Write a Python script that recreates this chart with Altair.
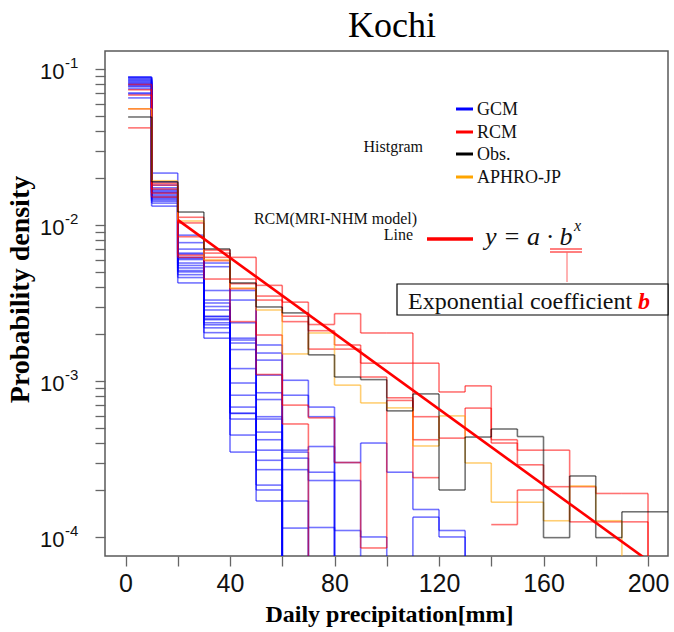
import altair as alt
import pandas as pd

# ---------------- data ----------------
BIN_LEFT = [1, 10, 20, 30, 40, 50, 60, 70, 80, 90, 100, 110, 120, 130, 140, 150, 160, 170, 180, 190, 200]
BIN_RIGHT = [10, 20, 30, 40, 50, 60, 70, 80, 90, 100, 110, 120, 130, 140, 150, 160, 170, 180, 190, 200, 210]
BELOW = 3e-5  # density below the visible axis range (line runs off the bottom)

GCM = [
    [0.0802, 0.0215, 0.0086, 0.0057, 0.0033, 0.0017, 0.00101, 0.00068, 0.0003, 0.0004, 0.00026, 0.00015, 0.00011, BELOW],
    [0.0889, 0.0189, 0.0077, 0.0054, 0.0038, 0.00151, 0.00081, 0.00059, 0.00023, 0.0001, BELOW, 0.000134, 0.0001, BELOW],
    [0.0876, 0.018, 0.0070, 0.0038, 0.00236, 0.00136, 0.00036, 0.00038, 0.00011, BELOW],
    [0.0863, 0.0173, 0.0065, 0.0033, 0.00188, 0.00109, 0.00035, 0.00026, BELOW],
    [0.085, 0.0168, 0.0061, 0.00316, 0.00183, 0.00084, 0.00032, 0.00023, BELOW],
    [0.0838, 0.016, 0.0057, 0.00285, 0.00175, 0.00076, 0.00027, 0.000115, BELOW],
    [0.0825, 0.0153, 0.0053, 0.00258, 0.00159, 0.00059, 0.00017, BELOW],
    [0.0813, 0.0145, 0.005, 0.00247, 0.00097, 0.00057, 0.000114, BELOW],
    [0.079, 0.0165, 0.0046, 0.00236, 0.00081, 0.00047, BELOW],
    [0.0778, 0.0156, 0.00425, 0.00229, 0.00068, 0.00042, BELOW],
    [0.0767, 0.015, 0.0062, 0.00219, 0.00062, 0.00031, BELOW],
    [0.0745, 0.0142, 0.0055, 0.00204, 0.00057, 0.00027, BELOW],
    [0.0702, 0.0138, 0.0048, 0.00188, 0.00045, 0.000215, BELOW],
    [0.0692, 0.0132, 0.0060, 0.0030, 0.00035, 0.0002, BELOW],
    [0.0652, 0.0148, 0.0051, 0.0026, 0.00062, 0.00017, BELOW],
    [0.0885, 0.0162, 0.0066, 0.0025, 0.0012, 0.00036, BELOW],
]

RCM = [
    [0.0555, 0.017, 0.0112, 0.0069, 0.0062, 0.0041, 0.0032, 0.0023, 0.0027, 0.00203, 0.00203, 0.0013, 0.00085,
     0.00093, 0.00042, 0.00036, 0.00036, 0.00021, 0.00019, 0.00019, BELOW],
    [0.0419, 0.016, 0.0103, 0.0066, 0.0045, 0.0035, 0.0026, 0.0021, 0.0017, 0.0013, 0.0013, 0.00059, 0.00043,
     0.00067, 0.0004, 0.00029, 0.00021, 0.000125, 0.000125, 0.000125, BELOW],
    [0.0735, 0.0151, 0.0084, 0.0062, 0.0042, 0.0033, 0.0024, 0.0016, 0.0016, 0.00106, 0.00078, 0.00024, None,
     None, 0.00012, 0.0002, None],
    [0.068, 0.018, 0.0064, 0.0059, 0.0039, 0.00197, 0.0007, 0.00058, 0.0003, 8.5e-5, 0.00075, 0.00042, None],
    [0.0795, 0.0185, 0.0062, 0.0045, 0.0024, 0.0011, 0.00053, BELOW],
]

OBS = [0.0492, 0.0189, 0.0121, 0.00702, 0.00425, 0.00298, 0.00273, 0.00147, 0.00106, 0.00102, 0.000643,
       0.000826, 0.0002, 0.000437, 0.000492, 0.00044, 9.9e-5, 0.000246, 9.9e-5, 0.000145, 0.000145]

APHRO = [0.0555, 0.0192, 0.0106, 0.00597, 0.00394, 0.00285, 0.00149, 0.00203, 0.00094, 0.000723, 0.000672,
         0.000383, 0.000597, 0.000298, 0.000167, 0.000167, 0.000127, 0.000212, 0.000127, BELOW]

FIT_X = [20, 200]
FIT_Y = [0.01077, 7.06e-5]

Y_DECADES = [1e-4, 1e-3, 1e-2, 1e-1]
Y_EXPONENTS = ["-4", "-3", "-2", "-1"]
X_TICKS = [0, 20, 40, 60, 80, 100, 120, 140, 160, 180, 200]

GROUPS = ["GCM", "RCM", "APHRO-JP", "Obs."]
COLORS = ["#0000ff", "#ff0000", "#ffa500", "#000000"]

# ---------------- build step-segment table ----------------
def step_rows(name, group, vals):
    rows = []
    prev = None
    for i, v in enumerate(vals):
        if v is None:
            prev = None
            continue
        rows.append(dict(series=name, group=group, x=BIN_LEFT[i], x2=BIN_RIGHT[i], y=v, y2=v))
        if prev is not None:
            rows.append(dict(series=name, group=group, x=BIN_LEFT[i], x2=BIN_LEFT[i], y=prev, y2=v))
        prev = v
    return rows

rows = []
for k, s in enumerate(GCM):
    rows += step_rows(f"GCM{k}", "GCM", s)
for k, s in enumerate(RCM):
    rows += step_rows(f"RCM{k}", "RCM", s)
rows += step_rows("APHRO", "APHRO-JP", APHRO)
rows += step_rows("OBS", "Obs.", OBS)
seg = pd.DataFrame(rows)

minor = [m * 10.0 ** k for k in (-4, -3, -2) for m in range(1, 10)] + [0.1]

SERIF = "Liberation Serif"
SANS = "Liberation Sans"

xscale = alt.Scale(domain=[-7.85, 207.65], nice=False, zero=False)
yscale = alt.Scale(type="log", domain=[7.55e-5, 0.1303], nice=False)

xaxis = alt.Axis(
    values=X_TICKS, labelExpr="datum.value % 40 == 0 ? datum.label : ''",
    tickSize=10, domain=False, grid=False, labelFont=SANS, labelFontSize=25,
    labelColor="#111", labelBaseline="alphabetic", labelPadding=25,
    tickColor="#666", tickWidth=1.3,
    title="Daily precipitation[mm]", titleFont=SERIF, titleFontSize=24, titleFontWeight="bold",
    titleColor="#000", titleX=284, titleY=65, titleAlign="center", titleBaseline="alphabetic")

yaxis = alt.Axis(
    values=minor,
    labelExpr="abs(log(datum.value)/LN10 - round(log(datum.value)/LN10)) < 0.001 ? '10' : ''",
    tickSize=10, domain=False, grid=False, labelFont=SANS, labelFontSize=22, labelColor="#111",
    labelPadding=31, labelOffset=3, tickColor="#666", tickWidth=1.3,
    title="Probability density", titleFont=SERIF, titleFontSize=28, titleFontWeight="bold",
    titleColor="#000", titleX=-77, titleY=238, titleAngle=270, titleAlign="center",
    titleBaseline="alphabetic")

steps = alt.Chart(seg).mark_rule(clip=True, strokeWidth=1.6, opacity=0.55).encode(
    x=alt.X("x:Q", scale=xscale, axis=xaxis),
    x2="x2:Q",
    y=alt.Y("y:Q", scale=yscale, axis=yaxis),
    y2="y2:Q",
    color=alt.Color("group:N", scale=alt.Scale(domain=GROUPS, range=COLORS), legend=None),
    detail="series:N",
)

fit = alt.Chart(pd.DataFrame({"x": FIT_X, "y": FIT_Y})).mark_line(
    clip=True, color="#ff0000", strokeWidth=2.6).encode(
    x=alt.X("x:Q", scale=xscale, axis=xaxis), y=alt.Y("y:Q", scale=yscale, axis=yaxis))

expo = alt.Chart(pd.DataFrame({"y": Y_DECADES, "t": Y_EXPONENTS})).mark_text(
    align="left", baseline="middle", dy=-6, fontSize=15, font=SANS, color="#111").encode(
    y=alt.Y("y:Q", scale=yscale, axis=yaxis), text="t:N", x=alt.value(-40))

ANNOT = alt.Data(values=[{"a": 1}])

def text_layer(t, x, y, size, **kw):
    return alt.Chart(ANNOT).mark_text(text=t, fontSize=size, **kw).encode(
        x=alt.value(x), y=alt.value(y))

def hrule(x1, x2, y, color, width):
    return alt.Chart(ANNOT).mark_rule(color=color, strokeWidth=width).encode(
        x=alt.value(x1), x2=alt.value(x2), y=alt.value(y))

layers = [steps, fit, expo]

# title
layers.append(text_layer("Kochi", 287, -14, 36, font=SERIF, align="center", baseline="alphabetic", color="#000"))

# legend
leg_y = [58, 81, 103, 126]
leg_lab = ["GCM", "RCM", "Obs.", "APHRO-JP"]
leg_col = ["#0000ff", "#ff0000", "#000000", "#ffa500"]
for yy, lab, col in zip(leg_y, leg_lab, leg_col):
    layers.append(hrule(351, 368, yy, col, 3))
    layers.append(text_layer(lab, 372, yy + 6, 18, font=SERIF, align="left", baseline="alphabetic", color="#111"))

layers.append(text_layer("Histgram", 318, 101, 16, font=SERIF, align="right", baseline="alphabetic", color="#111"))
layers.append(text_layer("RCM(MRI-NHM model)", 312, 173, 16, font=SERIF, align="right", baseline="alphabetic", color="#111"))
layers.append(text_layer("Line", 308, 189, 16, font=SERIF, align="right", baseline="alphabetic", color="#111"))
layers.append(hrule(322, 368, 188, "#ff0000", 3.5))

# formula
layers.append(text_layer("y = a · b", 380, 194, 26, font=SERIF, fontStyle="italic", align="left",
                         baseline="alphabetic", color="#111"))
layers.append(text_layer("x", 469, 180, 16, font=SERIF, fontStyle="italic", align="left",
                         baseline="alphabetic", color="#111"))
layers.append(hrule(445, 477, 198, "#ff0000", 1))
layers.append(hrule(445, 477, 201, "#ff0000", 1))
layers.append(alt.Chart(ANNOT).mark_rule(color="#ff6666", strokeWidth=1).encode(
    x=alt.value(462), y=alt.value(201), y2=alt.value(231)))

# box
layers.append(alt.Chart(ANNOT).mark_rect(fill="white", stroke="#000", strokeWidth=1.2).encode(
    x=alt.value(292), x2=alt.value(563), y=alt.value(233), y2=alt.value(264)))
layers.append(text_layer("Exponential coefficient", 303, 258, 24, font=SERIF, align="left",
                         baseline="alphabetic", color="#111"))
layers.append(text_layer("b", 533, 258, 24, font=SERIF, fontStyle="italic", fontWeight="bold",
                         align="left", baseline="alphabetic", color="#ff0000"))

chart = alt.layer(*layers).properties(
    width=563, height=505,
    autosize=alt.AutoSizeParams(type="none"),
    padding={"left": 105, "top": 51, "right": 6, "bottom": 76},
    background="white",
).configure_view(stroke="#5a5a5a", strokeWidth=1.5)

chart.save("out.html", embed_options={"renderer": "svg", "actions": False})
